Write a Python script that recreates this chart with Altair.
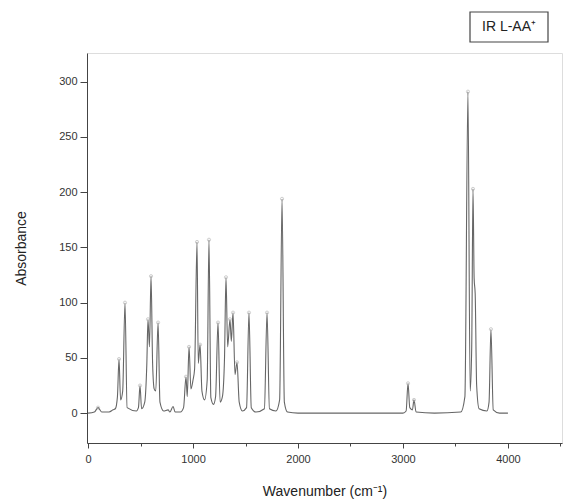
import altair as alt
import pandas as pd

# Spectrum trace (wavenumber, absorbance)
curve_wn = [0, 60, 95, 130, 200, 238, 260, 280, 295, 310, 330, 352, 372, 460, 480, 495, 510,
            540, 560, 571, 585, 600, 615, 630, 645, 667, 685, 720, 762, 780, 810, 830, 880,
            910, 933, 945, 962, 980, 1000, 1015, 1038, 1050, 1067, 1085, 1110, 1135, 1152,
            1170, 1195, 1215, 1238, 1258, 1280, 1300, 1314, 1330, 1352, 1365, 1381, 1400,
            1419, 1440, 1470, 1510, 1533, 1555, 1600, 1680, 1705, 1728, 1790, 1825, 1848,
            1870, 1900, 2000, 3000, 3030, 3048, 3065, 3090, 3105, 3125, 3300, 3550, 3590,
            3619, 3640, 3655, 3667, 3678, 3688, 3702, 3725, 3800, 3820, 3838, 3860, 3920, 4000]
curve_abs = [0, 1, 5, 1, 1, 3, 4, 15, 49, 12, 20, 100, 5, 2, 5, 25, 4,
             10, 45, 85, 60, 124, 45, 22, 20, 82, 10, 2, 3, 1, 6, 1, 1,
             5, 33, 15, 60, 22, 30, 40, 155, 45, 62, 20, 12, 30, 157,
             14, 8, 15, 82, 10, 15, 50, 123, 60, 85, 65, 91, 35,
             46, 10, 2, 5, 91, 5, 1, 4, 91, 4, 2, 12, 194,
             10, 1, 0, 0, 2, 27, 5, 3, 12, 1, 0, 1, 15,
             291, 20, 60, 203, 122, 108, 25, 4, 2, 10, 76, 3, 0, 0]

# Peak markers
peak_wn = [95, 295, 352, 495, 571, 600, 667, 933, 962, 1038, 1067, 1152, 1238, 1314, 1352,
           1381, 1419, 1533, 1705, 1848, 3048, 3105, 3619, 3667, 3838]
peak_abs = [5, 49, 100, 25, 85, 124, 82, 33, 60, 155, 62, 157, 82, 123, 85,
            91, 46, 91, 91, 194, 27, 12, 291, 203, 76]

x_ticks = [0, 500, 1000, 1500, 2000, 2500, 3000, 3500, 4000, 4500]
y_ticks = [0, 25, 50, 75, 100, 125, 150, 175, 200, 225, 250, 275, 300, 325]

curve = pd.DataFrame({"wn": curve_wn, "abs": curve_abs})
peaks = pd.DataFrame({"wn": peak_wn, "abs": peak_abs})

FONT = "Liberation Sans"
xscale = alt.Scale(domain=[-10, 4515], nice=False, zero=False)
yscale = alt.Scale(domain=[-27, 326], nice=False, zero=False)

xaxis = alt.Axis(
    title="Wavenumber (cm⁻¹)", values=x_ticks,
    labelExpr="datum.value % 1000 === 0 ? datum.label : ''",
    tickSize={"condition": {"test": "datum.value % 1000 === 0", "value": 5}, "value": 3},
    grid=False, domainColor="#444", tickColor="#444", labelColor="#333",
    labelFont=FONT, labelFontSize=11, titleFont=FONT, titleFontSize=14,
    titleFontWeight="normal", titleColor="#222", titlePadding=20, labelPadding=5,
    format="d",
)
yaxis = alt.Axis(
    title="Absorbance", values=y_ticks,
    labelExpr="datum.value % 50 === 0 ? datum.label : ''",
    tickSize={"condition": {"test": "datum.value % 50 === 0", "value": 7}, "value": 3},
    grid=False, domainColor="#444", tickColor="#444", labelColor="#333",
    labelFont=FONT, labelFontSize=11, titleFont=FONT, titleFontSize=14,
    titleFontWeight="normal", titleColor="#222", titlePadding=30, labelPadding=3,
    format="d",
)

line = alt.Chart(curve).mark_line(color="#666666", strokeWidth=1.1, interpolate="monotone").encode(
    x=alt.X("wn:Q", scale=xscale, axis=xaxis),
    y=alt.Y("abs:Q", scale=yscale, axis=yaxis),
)

pts = alt.Chart(peaks).mark_point(shape="circle", size=10, filled=False, color="#aaaaaa",
                                  strokeWidth=0.8).encode(
    x=alt.X("wn:Q", scale=xscale),
    y=alt.Y("abs:Q", scale=yscale),
)

box = alt.Chart(pd.DataFrame({"a": [0]})).mark_rect(
    fill="white", stroke="#444", strokeWidth=1.2
).encode(x=alt.value(383), x2=alt.value(461), y=alt.value(-41), y2=alt.value(-11))

label = alt.Chart(pd.DataFrame({"t": ["IR L-AA⁺"]})).mark_text(
    font=FONT, fontSize=14, color="#222", align="center", baseline="middle"
).encode(x=alt.value(422), y=alt.value(-26), text="t:N")

chart = alt.layer(line, pts, box, label).properties(
    width=475, height=390,
    autosize=alt.AutoSizeParams(type="none"),
    padding={"left": 87, "top": 53, "right": 1, "bottom": 58},
).configure_view(stroke=None).configure(background="white")

chart.save("out.html", embed_options={"renderer": "svg", "actions": False})
